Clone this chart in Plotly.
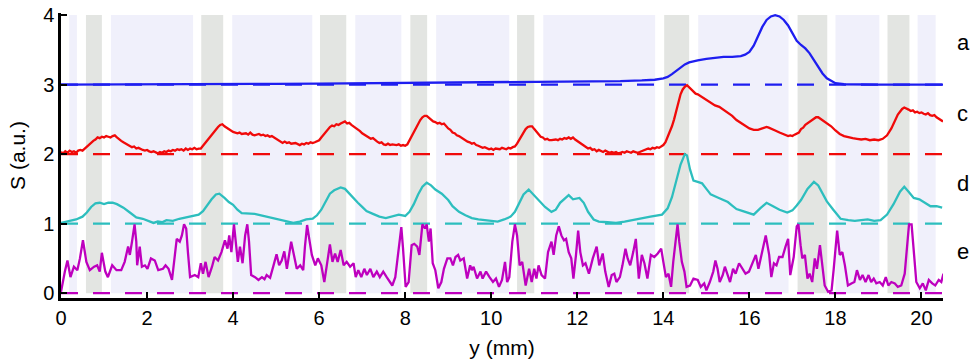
import plotly.graph_objects as go

# ---------------- data ----------------
blue_x = [0, 1, 2, 3, 4, 5, 6, 7, 8, 9, 10, 11, 12, 13, 13.5, 13.8, 14.0, 14.1, 14.2, 14.3, 14.4, 14.5,
          14.6, 14.7, 14.8, 15.0, 15.2, 15.4, 15.6, 15.8, 15.9, 16.0, 16.1, 16.2, 16.3, 16.4, 16.5, 16.6,
          16.7, 16.8, 16.9, 17.0, 17.1, 17.2, 17.3, 17.4, 17.5, 17.6, 17.7, 17.8, 17.9, 18.0, 18.2, 18.5,
          19, 20, 20.5]
blue_y = [3.0, 3.0, 3.005, 3.005, 3.01, 3.01, 3.015, 3.02, 3.02, 3.025, 3.03, 3.035, 3.04, 3.05, 3.06,
          3.07, 3.09, 3.11, 3.15, 3.2, 3.25, 3.29, 3.32, 3.34, 3.35, 3.37, 3.39, 3.4, 3.4, 3.41, 3.43,
          3.47, 3.56, 3.7, 3.83, 3.93, 3.98, 4.0, 3.98, 3.93, 3.85, 3.74, 3.63, 3.57, 3.52, 3.45, 3.35,
          3.25, 3.16, 3.09, 3.05, 3.02, 3.005, 3.0, 3.0, 3.0, 3.0]

red_x = [0.0, 0.05, 0.1, 0.15, 0.2, 0.25, 0.3, 0.35, 0.4, 0.45, 0.5, 0.55, 0.6, 0.65, 0.7, 0.75, 0.8, 0.85,
         0.9, 0.95, 1.0, 1.05, 1.1, 1.15, 1.2, 1.25, 1.3, 1.35, 1.4, 1.45, 1.5, 1.55, 1.6, 1.65, 1.7, 1.75,
         1.8, 1.85, 1.9, 1.95, 2.0, 2.05, 2.1, 2.15, 2.2, 2.25, 2.3, 2.35, 2.4, 2.45, 2.5, 2.55, 2.6, 2.65,
         2.7, 2.75, 2.8, 2.85, 2.9, 2.95, 3.0, 3.05, 3.1, 3.15, 3.2, 3.25, 3.3, 3.35, 3.4, 3.45, 3.5, 3.55,
         3.6, 3.65, 3.7, 3.75, 3.8, 3.85, 3.9, 3.95, 4.0, 4.1, 4.15, 4.2, 4.3, 4.35, 4.4, 4.45, 4.5, 4.6,
         4.65, 4.7, 4.75, 4.8, 4.85, 4.9, 4.95, 5.0, 5.05, 5.1, 5.15, 5.2, 5.25, 5.3, 5.35, 5.45, 5.5, 5.55,
         5.6, 5.65, 5.7, 5.75, 5.8, 5.85, 5.9, 5.95, 6.0, 6.05, 6.1, 6.15, 6.2, 6.25, 6.3, 6.35, 6.4, 6.45,
         6.5, 6.55, 6.6, 6.65, 6.7, 6.75, 6.8, 6.85, 6.9, 6.95, 7.0, 7.05, 7.1, 7.15, 7.2, 7.25, 7.3, 7.35,
         7.4, 7.45, 7.5, 7.55, 7.6, 7.65, 7.7, 7.8, 7.85, 7.9, 7.95, 8.0, 8.05, 8.1, 8.15, 8.2, 8.25, 8.3,
         8.35, 8.4, 8.45, 8.5, 8.55, 8.6, 8.65, 8.7, 8.75, 8.8, 8.85, 8.9, 8.95, 9.0, 9.05, 9.1, 9.15, 9.2,
         9.25, 9.3, 9.35, 9.4, 9.45, 9.5, 9.55, 9.6, 9.65, 9.7, 9.75, 9.8, 9.85, 9.9, 9.95, 10.0, 10.05,
         10.1, 10.15, 10.2, 10.25, 10.3, 10.35, 10.4, 10.45, 10.5, 10.55, 10.6, 10.65, 10.7, 10.75, 10.8,
         10.85, 10.9, 10.95, 11.0, 11.05, 11.1, 11.15, 11.2, 11.25, 11.3, 11.35, 11.4, 11.5, 11.55, 11.6,
         11.65, 11.7, 11.75, 11.8, 11.85, 11.9, 11.95, 12.0, 12.05, 12.1, 12.15, 12.2, 12.25, 12.3, 12.35,
         12.4, 12.45, 12.5, 12.55, 12.6, 12.65, 12.7, 12.75, 12.8, 12.85, 12.9, 12.95, 13.0, 13.05, 13.1,
         13.15, 13.2, 13.25, 13.3, 13.35, 13.4, 13.45, 13.5, 13.55, 13.6, 13.65, 13.7, 13.75, 13.8, 13.85,
         13.9, 13.95, 14.0, 14.05, 14.1, 14.15, 14.2, 14.25, 14.3, 14.35, 14.4, 14.45, 14.5, 14.55, 14.6,
         14.65, 14.7, 14.75, 14.8, 14.85, 14.9, 14.95, 15.0, 15.05, 15.1, 15.15, 15.2, 15.3, 15.35, 15.4,
         15.5, 15.6, 15.7, 15.8, 15.85, 15.9, 15.95, 16.0, 16.1, 16.2, 16.3, 16.4, 16.45, 16.5, 16.6, 16.7,
         16.8, 16.85, 16.9, 16.95, 17.0, 17.05, 17.1, 17.15, 17.2, 17.25, 17.3, 17.4, 17.5, 17.55, 17.6,
         17.65, 17.7, 17.8, 17.85, 17.9, 18.0, 18.1, 18.2, 18.3, 18.4, 18.5, 18.6, 18.7, 18.8, 18.9, 19.0,
         19.1, 19.15, 19.2, 19.3, 19.4, 19.45, 19.5, 19.55, 19.6, 19.65, 19.7, 19.75, 19.8, 19.85, 19.9,
         19.95, 20.0, 20.05, 20.1, 20.15, 20.2, 20.25, 20.3, 20.35, 20.4, 20.45, 20.5]
red_y = [2.03, 2.01, 2.04, 2.02, 2.05, 2.03, 2.04, 2.02, 2.05, 2.06, 2.05, 2.08, 2.1, 2.13, 2.16, 2.19, 2.21,
         2.24, 2.23, 2.25, 2.24, 2.26, 2.25, 2.24, 2.26, 2.27, 2.24, 2.21, 2.19, 2.17, 2.15, 2.14, 2.12,
         2.1, 2.11, 2.08, 2.09, 2.07, 2.06, 2.05, 2.06, 2.04, 2.03, 2.04, 2.02, 2.01, 2.03, 2.02, 2.04,
         2.03, 2.05, 2.04, 2.06, 2.05, 2.07, 2.06, 2.07, 2.05, 2.08, 2.06, 2.08, 2.07, 2.09, 2.07, 2.08,
         2.08, 2.12, 2.16, 2.2, 2.24, 2.27, 2.31, 2.35, 2.39, 2.42, 2.43, 2.4, 2.38, 2.35, 2.33, 2.32, 2.3,
         2.31, 2.29, 2.3, 2.28, 2.31, 2.28, 2.27, 2.29, 2.27, 2.28, 2.26, 2.27, 2.25, 2.26, 2.24, 2.22, 2.2,
         2.17, 2.16, 2.18, 2.16, 2.17, 2.15, 2.16, 2.14, 2.13, 2.15, 2.14, 2.16, 2.15, 2.17, 2.16, 2.17,
         2.18, 2.2, 2.24, 2.28, 2.32, 2.36, 2.39, 2.41, 2.4, 2.43, 2.42, 2.44, 2.45, 2.47, 2.44, 2.45,
         2.42, 2.4, 2.38, 2.35, 2.33, 2.3, 2.28, 2.26, 2.24, 2.22, 2.23, 2.2, 2.18, 2.16, 2.17, 2.14, 2.13,
         2.15, 2.13, 2.14, 2.13, 2.14, 2.12, 2.13, 2.12, 2.14, 2.2, 2.27, 2.33, 2.38, 2.44, 2.49, 2.53,
         2.55, 2.55, 2.52, 2.49, 2.47, 2.46, 2.44, 2.45, 2.43, 2.44, 2.4, 2.37, 2.35, 2.31, 2.3, 2.27,
         2.26, 2.24, 2.21, 2.2, 2.18, 2.17, 2.15, 2.16, 2.13, 2.12, 2.11, 2.09, 2.1, 2.08, 2.07, 2.08,
         2.06, 2.08, 2.07, 2.07, 2.09, 2.08, 2.07, 2.09, 2.08, 2.1, 2.11, 2.15, 2.21, 2.27, 2.31, 2.36,
         2.39, 2.4, 2.4, 2.36, 2.32, 2.28, 2.25, 2.24, 2.21, 2.22, 2.2, 2.2, 2.21, 2.2, 2.22, 2.21, 2.23,
         2.22, 2.24, 2.22, 2.24, 2.21, 2.19, 2.16, 2.14, 2.12, 2.11, 2.08, 2.09, 2.06, 2.07, 2.04, 2.06,
         2.04, 2.03, 2.05, 2.03, 2.02, 2.03, 2.02, 2.03, 2.01, 2.02, 2.03, 2.02, 2.04, 2.03, 2.02, 2.04,
         2.03, 2.02, 2.03, 2.04, 2.05, 2.06, 2.08, 2.07, 2.09, 2.08, 2.1, 2.09, 2.11, 2.13, 2.17, 2.24,
         2.32, 2.4, 2.5, 2.62, 2.74, 2.86, 2.93, 2.97, 2.99, 2.96, 2.93, 2.9, 2.87, 2.86, 2.84, 2.83, 2.8,
         2.78, 2.76, 2.74, 2.73, 2.7, 2.68, 2.66, 2.63, 2.59, 2.55, 2.49, 2.45, 2.43, 2.41, 2.39, 2.37,
         2.35, 2.35, 2.37, 2.39, 2.38, 2.37, 2.34, 2.31, 2.29, 2.27, 2.26, 2.27, 2.26, 2.28, 2.3, 2.31,
         2.36, 2.38, 2.42, 2.46, 2.51, 2.53, 2.53, 2.51, 2.49, 2.45, 2.43, 2.4, 2.34, 2.29, 2.26, 2.24,
         2.23, 2.22, 2.21, 2.22, 2.2, 2.21, 2.2, 2.22, 2.24, 2.27, 2.37, 2.5, 2.57, 2.61, 2.65, 2.67, 2.66,
         2.64, 2.62, 2.63, 2.6, 2.61, 2.59, 2.6, 2.58, 2.57, 2.59, 2.56, 2.55, 2.56, 2.53, 2.51, 2.49, 2.47]

cyan_x = [0, 0.2, 0.35, 0.5, 0.6, 0.7, 0.8, 0.9, 1.0, 1.1, 1.2, 1.3, 1.45, 1.6, 1.75, 1.9, 2.05, 2.15, 2.25,
          2.35, 2.45, 2.6, 2.75, 2.9, 3.05, 3.2, 3.3, 3.4, 3.5, 3.6, 3.68, 3.8, 3.9, 4.0, 4.1, 4.2, 4.35,
          4.5, 4.65, 4.8, 4.95, 5.1, 5.25, 5.4, 5.55, 5.7, 5.85, 5.95, 6.05, 6.15, 6.25, 6.35, 6.5, 6.6,
          6.7, 6.8, 6.9, 7.0, 7.1, 7.25, 7.4, 7.55, 7.7, 7.85, 8.0, 8.1, 8.2, 8.3, 8.4, 8.5, 8.6, 8.7, 8.85,
          9.0, 9.1, 9.25, 9.4, 9.55, 9.7, 9.85, 10.0, 10.15, 10.3, 10.45, 10.55, 10.65, 10.75, 10.87, 10.95,
          11.05, 11.15, 11.25, 11.4, 11.5, 11.6, 11.7, 11.8, 11.9, 12.05, 12.15, 12.25, 12.38, 12.5, 12.7,
          12.9, 13.1, 13.3, 13.5, 13.7, 13.97, 14.1, 14.2, 14.3, 14.4, 14.5, 14.55, 14.62, 14.7, 14.8, 14.9,
          15.0, 15.1, 15.25, 15.4, 15.5, 15.6, 15.7, 15.85, 16.0, 16.1, 16.25, 16.4, 16.55, 16.7, 16.88,
          17.0, 17.1, 17.2, 17.35, 17.5, 17.6, 17.7, 17.8, 17.95, 18.12, 18.3, 18.45, 18.6, 18.75, 18.9,
          19.05, 19.2, 19.35, 19.5, 19.6, 19.7, 19.82, 19.95, 20.1, 20.21, 20.35, 20.48]
cyan_y = [1.01, 1.04, 1.06, 1.1, 1.16, 1.24, 1.29, 1.3, 1.28, 1.3, 1.3, 1.28, 1.23, 1.16, 1.09, 1.07, 1.04,
          1.01, 1.03, 1.02, 1.05, 1.04, 1.07, 1.09, 1.1, 1.13, 1.18, 1.27, 1.35, 1.42, 1.43, 1.37, 1.31,
          1.27, 1.2, 1.15, 1.15, 1.14, 1.12, 1.1, 1.08, 1.06, 1.04, 1.01, 1.03, 1.06, 1.07, 1.12, 1.2, 1.32,
          1.43, 1.48, 1.52, 1.5, 1.43, 1.37, 1.3, 1.24, 1.18, 1.14, 1.1, 1.08, 1.1, 1.13, 1.11, 1.17, 1.28,
          1.42, 1.53, 1.59, 1.55, 1.49, 1.43, 1.34, 1.25, 1.17, 1.12, 1.08, 1.06, 1.05, 1.03, 1.03, 1.06,
          1.1, 1.17, 1.3, 1.42, 1.49, 1.44, 1.37, 1.31, 1.24, 1.17, 1.2, 1.3, 1.36, 1.41, 1.35, 1.37, 1.3,
          1.17, 1.06, 1.03, 1.02, 1.01, 1.03, 1.05, 1.08, 1.1, 1.13, 1.22, 1.38, 1.6, 1.85, 2.0, 1.98, 1.78,
          1.62, 1.6, 1.58, 1.5, 1.42, 1.38, 1.34, 1.31, 1.26, 1.21, 1.18, 1.15, 1.13, 1.22, 1.3, 1.25, 1.2,
          1.16, 1.19, 1.26, 1.34, 1.5, 1.6, 1.55, 1.43, 1.32, 1.2, 1.07, 1.05, 1.04, 1.05, 1.06, 1.04, 1.05,
          1.13, 1.28, 1.46, 1.53, 1.46, 1.37, 1.35, 1.29, 1.25, 1.25, 1.23]

mag_x = [0.0, 0.02, 0.09, 0.15, 0.22, 0.30, 0.38, 0.44, 0.51, 0.59, 0.67, 0.77, 0.84, 0.90, 0.95, 1.03,
         1.09, 1.19, 1.29, 1.40, 1.48, 1.56, 1.60, 1.65, 1.71, 1.75, 1.77, 1.83, 1.88, 1.95, 2.01, 2.09,
         2.18, 2.26, 2.37, 2.43, 2.50, 2.58, 2.64, 2.69, 2.76, 2.81, 2.86, 2.91, 2.95, 3.0, 3.11, 3.19,
         3.25, 3.30, 3.36, 3.43, 3.51, 3.57, 3.65, 3.73, 3.81, 3.87, 3.91, 3.96, 4.02, 4.07, 4.11, 4.16,
         4.22, 4.28, 4.33, 4.37, 4.42, 4.51, 4.59, 4.67, 4.73, 4.78, 4.86, 4.94, 5.01, 5.07, 5.13, 5.19,
         5.25, 5.35, 5.42, 5.48, 5.56, 5.63, 5.67, 5.72, 5.77, 5.83, 5.91, 5.97, 6.05, 6.12, 6.19, 6.25,
         6.31, 6.37, 6.43, 6.50, 6.57, 6.64, 6.72, 6.80, 6.85, 6.91, 6.98, 7.05, 7.11, 7.19, 7.26, 7.34,
         7.41, 7.49, 7.57, 7.65, 7.70, 7.77, 7.84, 7.91, 7.95, 8.01, 8.08, 8.15, 8.21, 8.28, 8.33, 8.40,
         8.46, 8.50, 8.55, 8.59, 8.64, 8.70, 8.77, 8.84, 8.90, 8.98, 9.05, 9.11, 9.17, 9.23, 9.28, 9.36,
         9.44, 9.51, 9.55, 9.59, 9.67, 9.75, 9.80, 9.88, 9.96, 10.04, 10.11, 10.18, 10.25, 10.32, 10.37,
         10.42, 10.49, 10.55, 10.60, 10.66, 10.72, 10.80, 10.88, 10.94, 11.0, 11.05, 11.10, 11.17, 11.25,
         11.32, 11.40, 11.45, 11.51, 11.57, 11.63, 11.69, 11.74, 11.80, 11.86, 11.91, 11.97, 12.02, 12.07,
         12.13, 12.19, 12.27, 12.36, 12.45, 12.51, 12.59, 12.65, 12.73, 12.80, 12.86, 12.91, 12.99, 13.05,
         13.12, 13.17, 13.23, 13.30, 13.36, 13.43, 13.50, 13.56, 13.63, 13.71, 13.79, 13.87, 13.95, 14.0,
         14.06, 14.12, 14.18, 14.23, 14.28, 14.33, 14.37, 14.43, 14.49, 14.54, 14.62, 14.70, 14.80, 14.87,
         14.95, 15.0, 15.08, 15.16, 15.21, 15.26, 15.31, 15.38, 15.43, 15.49, 15.55, 15.62, 15.68, 15.76,
         15.84, 15.91, 15.99, 16.07, 16.15, 16.21, 16.26, 16.33, 16.38, 16.46, 16.51, 16.57, 16.63, 16.69,
         16.77, 16.84, 16.90, 16.95, 17.03, 17.10, 17.14, 17.19, 17.23, 17.29, 17.35, 17.40, 17.46, 17.52,
         17.57, 17.64, 17.70, 17.75, 17.83, 17.91, 17.96, 18.0, 18.04, 18.10, 18.16, 18.22, 18.29, 18.37,
         18.44, 18.50, 18.57, 18.63, 18.70, 18.77, 18.83, 18.89, 18.95, 19.03, 19.10, 19.17, 19.23, 19.30,
         19.38, 19.45, 19.53, 19.61, 19.66, 19.71, 19.77, 19.82, 19.88, 19.96, 20.03, 20.10, 20.17, 20.25,
         20.32, 20.40, 20.46, 20.51]
mag_y = [0.02, 0.09, 0.31, 0.47, 0.23, 0.38, 0.33, 0.50, 0.76, 0.45, 0.33, 0.38, 0.40, 0.31, 0.58, 0.31,
         0.23, 0.40, 0.33, 0.33, 0.45, 0.67, 0.55, 0.74, 0.99, 0.74, 0.40, 0.67, 0.38, 0.40, 0.35, 0.50,
         0.47, 0.33, 0.35, 0.40, 0.35, 0.19, 0.55, 0.78, 0.74, 0.83, 0.99, 0.93, 0.59, 0.23, 0.26, 0.23,
         0.43, 0.28, 0.45, 0.23, 0.38, 0.52, 0.47, 0.59, 0.76, 0.64, 0.83, 0.59, 0.99, 0.64, 0.45, 0.67,
         0.43, 0.83, 0.99, 0.74, 0.26, 0.23, 0.19, 0.23, 0.20, 0.26, 0.22, 0.40, 0.56, 0.40, 0.47, 0.60,
         0.35, 0.74, 0.52, 0.35, 0.40, 0.33, 0.67, 0.98, 0.78, 0.55, 0.40, 0.50, 0.40, 0.16, 0.45, 0.70,
         0.45, 0.57, 0.45, 0.62, 0.40, 0.45, 0.38, 0.43, 0.23, 0.33, 0.23, 0.35, 0.26, 0.35, 0.23, 0.31,
         0.23, 0.31, 0.23, 0.16, 0.11, 0.23, 0.55, 0.95, 0.64, 0.09, 0.16, 0.69, 0.71, 0.67, 0.55, 0.99,
         0.93, 0.99, 0.74, 0.93, 0.43, 0.33, 0.07, 0.16, 0.35, 0.50, 0.50, 0.40, 0.52, 0.55, 0.47, 0.50,
         0.21, 0.40, 0.33, 0.38, 0.21, 0.31, 0.21, 0.31, 0.23, 0.16, 0.21, 0.09, 0.19, 0.45, 0.16, 0.23,
         0.74, 0.99, 0.83, 0.40, 0.45, 0.11, 0.35, 0.16, 0.35, 0.21, 0.40, 0.26, 0.21, 0.59, 0.74, 0.55,
         0.83, 0.96, 0.83, 0.76, 0.78, 0.59, 0.50, 0.21, 0.55, 0.90, 0.59, 0.40, 0.43, 0.28, 0.50, 0.67,
         0.40, 0.57, 0.31, 0.09, 0.26, 0.28, 0.16, 0.23, 0.40, 0.64, 0.50, 0.40, 0.59, 0.78, 0.21, 0.55,
         0.43, 0.21, 0.55, 0.52, 0.57, 0.64, 0.45, 0.23, 0.28, 0.09, 0.45, 0.74, 0.99, 0.74, 0.45, 0.31,
         0.09, 0.11, 0.21, 0.19, 0.09, 0.14, 0.04, 0.16, 0.31, 0.47, 0.35, 0.16, 0.26, 0.38, 0.26, 0.16,
         0.35, 0.28, 0.43, 0.35, 0.28, 0.31, 0.43, 0.55, 0.35, 0.50, 0.69, 0.83, 0.55, 0.23, 0.43, 0.40,
         0.52, 0.52, 0.67, 0.78, 0.26, 0.52, 0.96, 0.99, 0.69, 0.50, 0.55, 0.21, 0.28, 0.16, 0.50, 0.35,
         0.69, 0.40, 0.11, 0.02, 0.04, 0.35, 0.69, 0.90, 0.55, 0.59, 0.40, 0.11, 0.14, 0.16, 0.33, 0.19,
         0.26, 0.16, 0.26, 0.16, 0.21, 0.14, 0.16, 0.11, 0.23, 0.11, 0.16, 0.14, 0.09, 0.11, 0.28, 0.69,
         0.99, 0.99, 0.64, 0.16, 0.07, 0.14, 0.04, 0.19, 0.14, 0.11, 0.19, 0.16, 0.28]

series_x = [blue_x, red_x, cyan_x, mag_x]
series_y = [blue_y, red_y, cyan_y, mag_y]
baselines = [3, 2, 1, 0]
curve_labels = ["a", "c", "d", "e"]
label_y = [3.6, 2.59, 1.58, 0.6]

# background bands (start, end, kind)
band_start = [0.19, 0.58, 1.16, 3.26, 3.98, 6.02, 6.84, 8.12, 8.72, 10.6, 11.21, 14.02, 14.81, 17.12, 18.0, 19.21, 19.91]
band_end = [0.37, 0.95, 3.07, 3.77, 5.84, 6.63, 7.91, 8.51, 10.42, 11.0, 13.81, 14.6, 16.91, 17.81, 19.02, 19.72, 20.33]
band_kind = ["l", "g", "l", "g", "l", "g", "l", "g", "l", "g", "l", "g", "l", "g", "l", "g", "l"]

x_ticks = [0, 2, 4, 6, 8, 10, 12, 14, 16, 18, 20]
y_ticks = [0, 1, 2, 3, 4]

# ---------------- styling ----------------
colors = ["rgb(30,30,240)", "rgb(240,10,10)", "rgb(45,190,190)", "rgb(190,0,190)"]
band_colors = {"l": "#f0f0fb", "g": "#e3e5e2"}
FONT = "Liberation Sans, Arial, sans-serif"

fig = go.Figure()

for xs, ys, c, b in zip(series_x, series_y, colors, baselines):
    fig.add_trace(go.Scatter(x=xs, y=ys, mode="lines", line=dict(color=c, width=2.3),
                             showlegend=False, hoverinfo="skip"))
    fig.add_trace(go.Scatter(x=[0, 20.5], y=[b, b], mode="lines",
                             line=dict(color=c, width=2.4, dash="17px,15px"),
                             showlegend=False, hoverinfo="skip"))

shapes = []
for s, e, k in zip(band_start, band_end, band_kind):
    shapes.append(dict(type="rect", xref="x", yref="y", x0=s, x1=e, y0=0, y1=4,
                       fillcolor=band_colors[k], line=dict(width=0), layer="below"))

annotations = []
for lab, ly in zip(curve_labels, label_y):
    annotations.append(dict(text=lab, xref="paper", yref="y", x=1.0, xshift=12, y=ly,
                            xanchor="left", yanchor="middle", showarrow=False,
                            font=dict(size=22, color="black", family=FONT)))

fig.update_layout(
    width=975, height=362,
    margin=dict(l=61, r=32, t=13, b=64),
    paper_bgcolor="white", plot_bgcolor="white",
    font=dict(family=FONT, size=20, color="black"),
    shapes=shapes, annotations=annotations,
    xaxis=dict(range=[0, 20.5], tickvals=x_ticks, ticks="inside", ticklen=6, tickwidth=2,
               tickcolor="black", showline=True, linecolor="black", linewidth=2.5,
               showgrid=False, zeroline=False, automargin=False, ticklabeloverflow="allow",
               title=dict(text="y (mm)", standoff=13, font=dict(size=21)),
               tickfont=dict(size=20)),
    yaxis=dict(range=[-0.07, 4.03], tickvals=y_ticks, ticks="inside", ticklen=6, tickwidth=2,
               tickcolor="black", showline=True, linecolor="black", linewidth=2.5,
               showgrid=False, zeroline=False, automargin=False, ticklabeloverflow="allow",
               title=dict(text="S (a.u.)", standoff=12, font=dict(size=21)),
               tickfont=dict(size=20)),
)

# remove the browser's default 8px body margin so the 975x362 figure fills the window exactly
fig.write_html("out.html",
               config={"displayModeBar": False},
               post_script="document.body.style.margin='0';document.body.style.overflow='hidden';")
